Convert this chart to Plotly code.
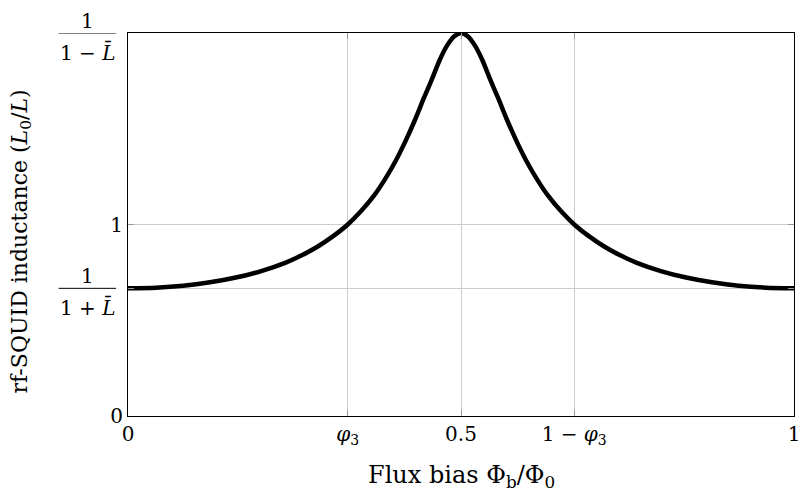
import plotly.graph_objects as go

# Curve (flux bias, L0/L)
flux_left = [0.0, 0.042, 0.083, 0.123, 0.162, 0.200, 0.236, 0.261, 0.285, 0.308, 0.330, 0.350,
             0.369, 0.386, 0.402, 0.417, 0.431, 0.444, 0.457, 0.468, 0.479, 0.490, 0.5]
ind_left = [0.667, 0.670, 0.680, 0.698, 0.723, 0.757, 0.800, 0.839, 0.885, 0.939, 1.000, 1.070,
            1.149, 1.237, 1.333, 1.438, 1.547, 1.658, 1.764, 1.859, 1.934, 1.983, 2.000]
flux_right = [0.510, 0.521, 0.532, 0.543, 0.556, 0.569, 0.583, 0.598, 0.614, 0.631, 0.650, 0.670,
              0.692, 0.715, 0.739, 0.764, 0.800, 0.838, 0.877, 0.917, 0.958, 1.0]
ind_right = [1.983, 1.934, 1.859, 1.764, 1.658, 1.547, 1.438, 1.333, 1.237, 1.149, 1.070, 1.000,
             0.939, 0.885, 0.839, 0.800, 0.757, 0.723, 0.698, 0.680, 0.670, 0.667]

x_tickvals = [0, 0.33, 0.5, 0.67, 1]
x_ticktext = ["0", "<i>φ</i><sub>3</sub>", "0.5", "1 − <i>φ</i><sub>3</sub>", "1"]
y_tickvals = [0, 2/3, 1, 2]
y_ticktext = ["0", "", "1", ""]
frac_vals = [2, 2/3]
frac_den = ["1 − <i>L\u0304</i>", "1 + <i>L\u0304</i>"]

FONT = "DejaVu Serif"
fig = go.Figure()
fig.add_trace(go.Scatter(x=flux_left + flux_right, y=ind_left + ind_right, mode="lines",
                         line=dict(color="black", width=4.5, shape="spline", smoothing=0.8),
                         showlegend=False, hoverinfo="skip"))

axis_common = dict(showgrid=True, gridcolor="#cccccc", gridwidth=1, zeroline=False,
                   showline=True, linecolor="black", linewidth=1, mirror="ticks",
                   ticks="inside", ticklen=6, tickcolor="#999999", tickwidth=1,
                   ticklabeloverflow="allow",
                   tickfont=dict(family=FONT, size=20, color="black"))
fig.update_xaxes(range=[0, 1], tickvals=x_tickvals, ticktext=x_ticktext, **axis_common)
fig.update_yaxes(range=[0, 2], tickvals=y_tickvals, ticktext=y_ticktext, **axis_common)

for yv, den in zip(frac_vals, frac_den):
    fig.add_annotation(x=0, xref="paper", y=yv, yref="y", text="1", showarrow=False,
                       xanchor="center", yanchor="middle", xshift=-41, yshift=12,
                       font=dict(family=FONT, size=20, color="black"))
    fig.add_annotation(x=0, xref="paper", y=yv, yref="y", text=den, showarrow=False,
                       xanchor="center", yanchor="middle", xshift=-41, yshift=-19,
                       font=dict(family=FONT, size=20, color="black"))
    fig.add_shape(type="line", xref="paper", yref="y", x0=-70/672, x1=-12/672, y0=yv, y1=yv,
                  line=dict(color="black", width=1))

fig.add_annotation(x=0.5, xref="paper", y=0, yref="paper", yshift=-60,
                   text="Flux bias Φ<sub>b</sub>/Φ<sub>0</sub>", showarrow=False,
                   xanchor="center", yanchor="middle",
                   font=dict(family=FONT, size=24, color="black"))
fig.add_annotation(x=0, xref="paper", xshift=-107, y=0.5, yref="paper", yshift=-17,
                   text="rf-SQUID inductance (<i>L</i><sub>0</sub>/<i>L</i>)", showarrow=False,
                   textangle=-90, xanchor="center", yanchor="middle",
                   font=dict(family=FONT, size=22, color="black"))

fig.update_layout(width=805, height=499, margin=dict(l=128, r=5, t=33, b=83),
                  plot_bgcolor="white", paper_bgcolor="white")
fig.write_html("out.html", config={"displayModeBar": False},
               post_script="document.body.style.margin='0px';document.body.style.overflow='hidden';")
